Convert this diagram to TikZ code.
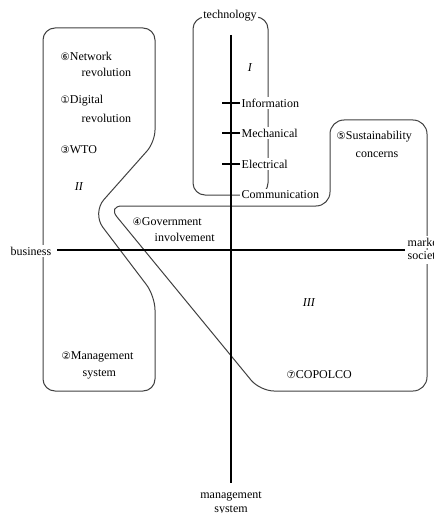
\documentclass[tikz,border=0pt]{standalone}
\usepackage{fontspec}
\setmainfont{Liberation Serif}
\newfontfamily\circfont[Scale=0.85]{DejaVu Sans}
\newcommand{\cnum}[1]{{\circfont #1}}
\usetikzlibrary{arrows}

\tikzset{
  lbl/.style={font=\fontsize{12}{14}\selectfont, inner sep=1.5pt},
  cover/.style={lbl, fill=white},
  region/.style={draw=black!75, line width=1pt, rounded corners=12pt},
  axis/.style={line width=1.1pt},
}

\begin{document}
\begin{tikzpicture}[x=1pt,y=-1pt]
   \useasboundingbox (0,0) rectangle (433,513);

   % the three regions
   \draw[region] (43,391) -- (43,28) -- (155,28) -- (155,142)
        [rounded corners=18pt] -- (92,213) [rounded corners=14pt] -- (155,296)
        [rounded corners=12pt] -- (155,391) -- cycle;
   \draw[region] (193,195) -- (193,17) -- (268,17) -- (268,195) -- cycle;
   \draw[region, rounded corners=14pt] (108,206) -- (330,206) -- (330,120) -- (427,120)
        -- (427,391) -- (260,391) -- cycle;

   % axes
   \coordinate (top) at (231,35);
   \coordinate (bottom) at (231,483);
   \coordinate (west) at (57,250);
   \coordinate (east) at (405,250);
   \draw[axis] (top) -- (bottom);
   \draw[axis] (west) -- (east);

   \draw (230,16) node[cover] (technology) {technology};
   \draw (31,251) node[cover] (business) {business};
   \draw (406,242) node[cover, anchor=west] (market) {market};
   \draw (406,257) node[cover, anchor=west] (society) {society};
   \draw (231,496) node[lbl] (management) {management};
   \draw (231,510) node[lbl] (system) {system};

   % stages of technology
   \draw (240,103) node[cover, anchor=west] (information) {Information};
   \draw (240,133) node[cover, anchor=west] (mechanical) {Mechanical};
   \draw (240,164) node[cover, anchor=west] (electrical) {Electrical};
   \draw (240,195) node[cover, anchor=west] (communication) {Communication};
   \draw[axis] (information.west) -- ++(-18,0);
   \draw[axis] (mechanical.west) -- ++(-18,0);
   \draw[axis] (electrical.west) -- ++(-18,0);

   % quadrant numbers
   \draw (250,68) node[lbl] (one) {\textit{I}};
   \draw (79,187) node[lbl] (two) {\textit{II}};
   \draw (309,303) node[lbl] (three) {\textit{III}};

   % factors
   \draw (59,56) node[lbl, anchor=west] (network) {\cnum{⑥}Network};
   \draw (80,72) node[lbl, anchor=west] (network2) {revolution};
   \draw (59,101) node[lbl, anchor=west] (digital) {\cnum{①}Digital};
   \draw (80,118) node[lbl, anchor=west] (digital2) {revolution};
   \draw (59,150) node[lbl, anchor=west] (wto) {\cnum{③}WTO};
   \draw (131,222) node[lbl, anchor=west] (government) {\cnum{④}Government};
   \draw (153,237) node[lbl, anchor=west] (government2) {involvement};
   \draw (335,137) node[lbl, anchor=west] (sustainability) {\cnum{⑤}Sustainability};
   \draw (377,155) node[lbl] (sustainability2) {concerns};
   \draw (60,357) node[lbl, anchor=west] (managementsys) {\cnum{②}Management};
   \draw (81,374) node[lbl, anchor=west] (managementsys2) {system};
   \draw (285,375) node[lbl, anchor=west] (copolco) {\cnum{⑦}COPOLCO};
\end{tikzpicture}
\end{document}
